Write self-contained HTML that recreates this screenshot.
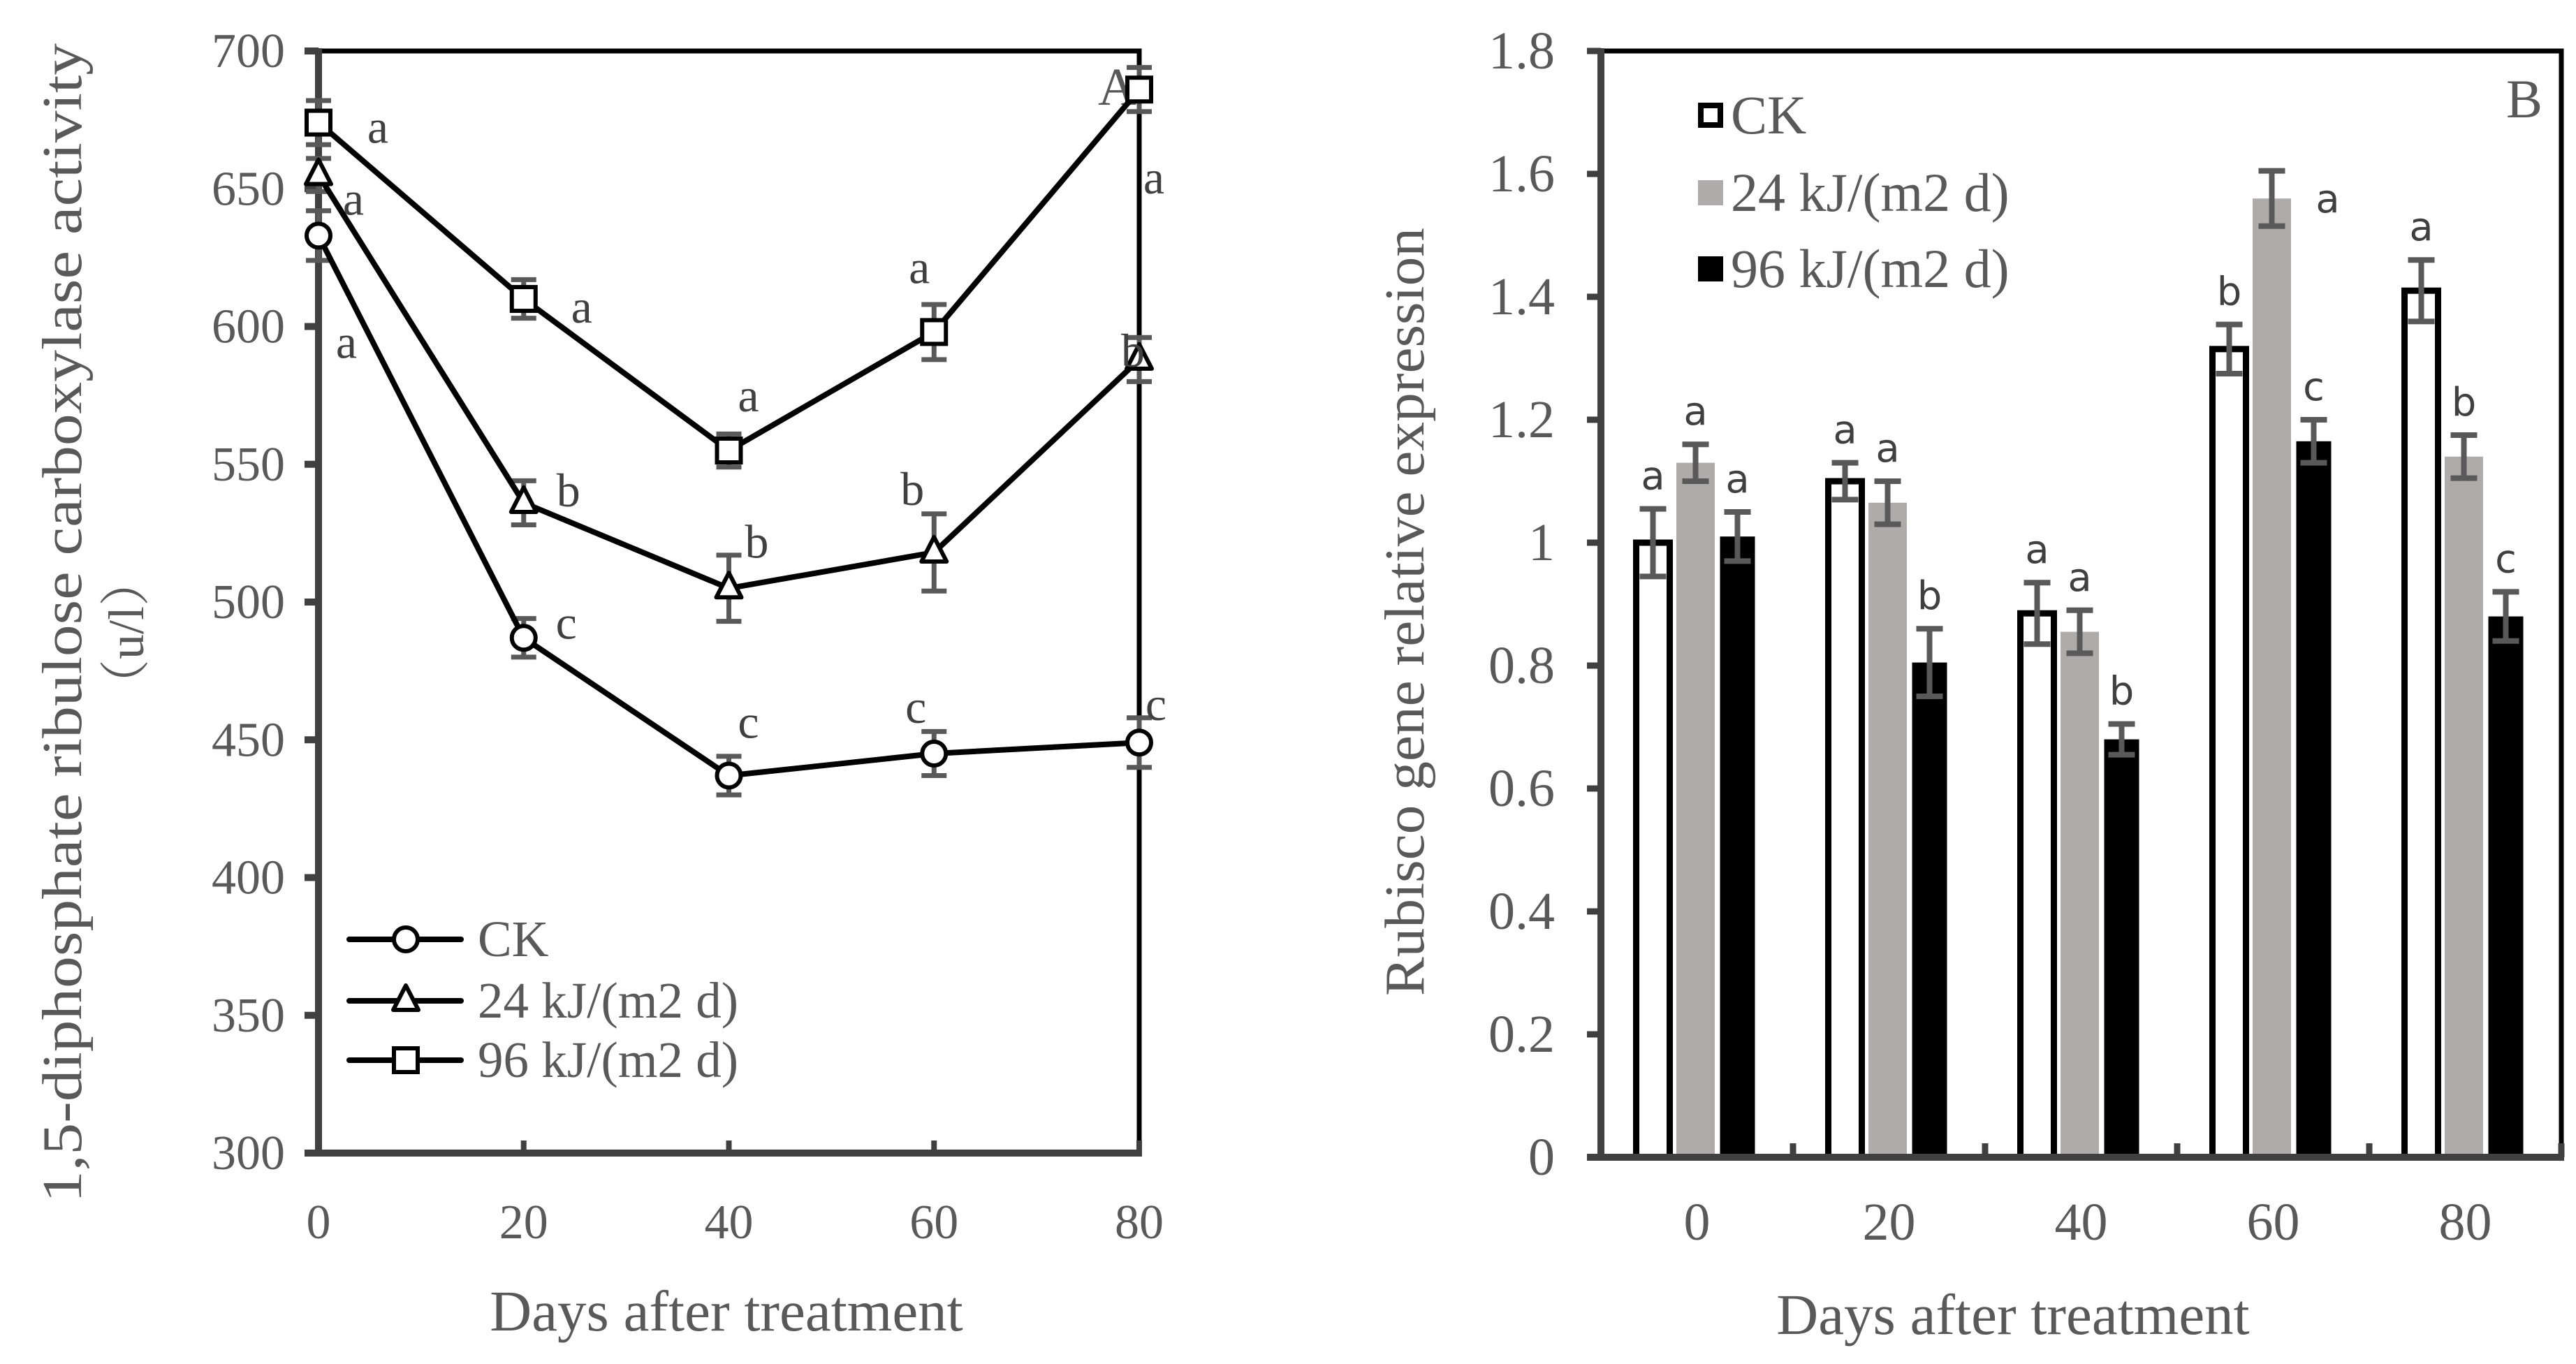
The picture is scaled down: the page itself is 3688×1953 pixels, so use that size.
<!DOCTYPE html>
<html><head><meta charset="utf-8"><style>
html,body{margin:0;padding:0;background:#fff;}
svg{display:block;}
text{font-family:"Liberation Serif",serif;fill:#595959;}
.sans{font-family:"DejaVu Sans","Liberation Sans",sans-serif;fill:#404040;}
</style></head><body>
<svg id="fig" width="3688" height="1953" viewBox="0 0 3688 1953" xmlns="http://www.w3.org/2000/svg">
<g id="chartA"></g>
<g id="chartB"></g>
</svg>
<script>
// ---------- Chart A data ----------
const daysA = [0, 20, 40, 60, 80];
const ckA = [633, 487, 437, 445, 449];
const uv24A = [655, 536, 505, 518, 588];
const uv96A = [674, 610, 555, 598, 686];
const ckErrA = [9, 7, 7, 8, 9];
const uv24ErrA = [6, 8, 12, 14, 8];
const uv96ErrA = [8, 7, 6, 10, 8];
const ckLetA = ["a", "c", "c", "c", "c"];
const uv24LetA = ["a", "b", "b", "b", "b"];
const uv96LetA = ["a", "a", "a", "a", "a"];
const yTicksA = [300, 350, 400, 450, 500, 550, 600, 650, 700];
const xTicksA = [0, 20, 40, 60, 80];
// ---------- Chart B data ----------
const catsB = ["0", "20", "40", "60", "80"];
const ckB = [1.0, 1.1, 0.885, 1.315, 1.41];
const uv24B = [1.13, 1.065, 0.855, 1.56, 1.14];
const uv96B = [1.01, 0.805, 0.68, 1.165, 0.88];
const ckErrB = [0.055, 0.03, 0.05, 0.04, 0.05];
const uv24ErrB = [0.03, 0.035, 0.035, 0.045, 0.035];
const uv96ErrB = [0.04, 0.055, 0.025, 0.035, 0.04];
const ckLetB = ["a", "a", "a", "b", "a"];
const uv24LetB = ["a", "a", "a", "a", "b"];
const uv96LetB = ["a", "b", "b", "c", "c"];
const yTicksB = [0, 0.2, 0.4, 0.6, 0.8, 1, 1.2, 1.4, 1.6, 1.8];

const NS = "http://www.w3.org/2000/svg";
function mk(parent, tag, attrs, txt) {
  const e = document.createElementNS(NS, tag);
  for (const k in attrs) e.setAttribute(k, attrs[k]);
  if (txt !== undefined) e.textContent = txt;
  parent.appendChild(e);
  return e;
}

// ===== Chart A =====
(function () {
  const g = document.getElementById('chartA');
  const L = 456, R = 1631, T = 73, B = 1651;
  const x = d => L + (d - 0) / 80 * (R - L);
  const y = v => B - (v - 300) / 400 * (B - T);
  let e = mk(g, 'path', {d: `M${L} ${T} H${R} V${B}`, fill: 'none', stroke: '#000', 'stroke-width': 7});
  
  
  e = mk(g, 'line', {x1: L, y1: T - 4, x2: L, y2: B + 5, stroke: '#404040', 'stroke-width': 10});
  
  
  e = mk(g, 'line', {x1: L - 20, y1: B, x2: R + 4, y2: B, stroke: '#404040', 'stroke-width': 10});
  
  
  yTicksA.forEach(v => {
    let t = mk(g, 'line', {x1: L - 20, y1: y(v), x2: L, y2: y(v), stroke: '#404040', 'stroke-width': 10});
    
    
    t = mk(g, 'text', {x: 408, y: y(v) + 23, 'text-anchor': 'end', 'font-size': 70}, String(v));
    
    
  });
  xTicksA.forEach(d => {
    let t = mk(g, 'line', {x1: x(d), y1: B - 18, x2: x(d), y2: B, stroke: '#404040', 'stroke-width': 8});
    
    
    t = mk(g, 'text', {x: x(d), y: 1773, 'text-anchor': 'middle', 'font-size': 70}, String(d));
    
    
  });
  e = mk(g, 'text', {x: 1040, y: 1905, 'text-anchor': 'middle', 'font-size': 83}, 'Days after treatment');
  
  
  e = mk(g, 'text', {x: 0, y: 0, 'text-anchor': 'middle', 'font-size': 80, textLength: 1660, lengthAdjust: 'spacingAndGlyphs', transform: 'translate(116 892) rotate(-90)'}, '1,5-diphosphate ribulose carboxylase activity');
  
  
  e = mk(g, 'text', {x: 0, y: 0, 'text-anchor': 'middle', 'font-size': 72, transform: 'translate(205 906) rotate(-90)'}, '（u/l）');
  e.setAttribute('style', 'font-family:"Liberation Serif","Noto Serif CJK SC",serif');
  
  
  e = mk(g, 'text', {x: 1572, y: 150, 'font-size': 76}, 'A');
  
  

  function marker(parent, type, cx, cy) {
    let m;
    if (type === 'circle') m = mk(parent, 'circle', {cx, cy, r: 17, fill: '#fff', stroke: '#000', 'stroke-width': 6});
    else if (type === 'tri') m = mk(parent, 'path', {d: `M${cx} ${cy - 22} L${cx + 18} ${cy + 13} L${cx - 18} ${cy + 13} Z`, fill: '#fff', stroke: '#000', 'stroke-width': 6, 'stroke-linejoin': 'round'});
    else m = mk(parent, 'rect', {x: cx - 17, y: cy - 17, width: 34, height: 34, fill: '#fff', stroke: '#000', 'stroke-width': 6});
    return m;
  }
  const series = [
    {name: 'ck', vals: ckA, err: ckErrA, let: ckLetA, m: 'circle', off: [[40, 153], [61, -21], [28, -76], [-26, -66], [24, -54]]},
    {name: '24', vals: uv24A, err: uv24ErrA, let: uv24LetA, m: 'tri', off: [[50, 35], [64, -17], [40, -66], [-31, -90], [-9, -12]]},
    {name: '96', vals: uv96A, err: uv96ErrA, let: uv96LetA, m: 'rect', off: [[85, 7], [83, 12], [28, -78], [-21, -92], [21, 127]]}
  ];
  series.forEach(s => {
    const sg = mk(g, 'g', {});
    
    
    s.vals.forEach((v, i) => {
      const cx = x(daysA[i]), t = y(v + s.err[i]), b = y(v - s.err[i]);
      const eb = mk(sg, 'path', {d: `M${cx} ${t} V${b} M${cx - 18} ${t} H${cx + 18} M${cx - 18} ${b} H${cx + 18}`, stroke: '#595959', 'stroke-width': 7, fill: 'none'});
      
      
    });
    const pts = s.vals.map((v, i) => x(daysA[i]) + ',' + y(v)).join(' ');
    const pl = mk(sg, 'polyline', {points: pts, fill: 'none', stroke: '#000', 'stroke-width': 8, 'stroke-linejoin': 'round'});
    
    
    s.vals.forEach((v, i) => {
      const m = marker(sg, s.m, x(daysA[i]), y(v));
      
      
      const lt = mk(sg, 'text', {x: x(daysA[i]) + s.off[i][0], y: y(v) + s.off[i][1] + 22, 'text-anchor': 'middle', 'font-size': 68}, s.let[i]);
      lt.setAttribute('style', 'fill:#404040');
      
      
    });
  });
  const lg = mk(g, 'g', {});
  
  
  const legItems = [['circle', 'CK', 1345], ['tri', '24 kJ/(m2 d)', 1433], ['rect', '96 kJ/(m2 d)', 1518]];
  legItems.forEach(it => {
    const eg = mk(lg, 'g', {});
    
    
    mk(eg, 'line', {x1: 500, y1: it[2], x2: 660, y2: it[2], stroke: '#000', 'stroke-width': 8, 'stroke-linecap': 'round'});
    marker(eg, it[0], 581, it[2]);
    mk(eg, 'text', {x: 684, y: it[2] + 24, 'font-size': 73}, it[1]);
  });
})();

// ===== Chart B =====
(function () {
  const g = document.getElementById('chartB');
  const L = 2292, R = 3667, T = 73, B = 1657;
  const cw = (R - L) / catsB.length;
  const xc = i => L + cw * (i + 0.5);
  const y = v => B - v / 1.8 * (B - T);
  let e = mk(g, 'path', {d: `M${L} ${T} H${R} V${B}`, fill: 'none', stroke: '#000', 'stroke-width': 7});
  
  
  yTicksB.forEach(v => {
    let t = mk(g, 'line', {x1: L - 20, y1: y(v), x2: L, y2: y(v), stroke: '#404040', 'stroke-width': 9});
    
    
    t = mk(g, 'text', {x: 2226, y: y(v) + 25, 'text-anchor': 'end', 'font-size': 76}, String(v));
    
    
  });
  catsB.forEach((c, i) => {
    let t = mk(g, 'line', {x1: L + cw * (i + 1), y1: B - 20, x2: L + cw * (i + 1), y2: B, stroke: '#404040', 'stroke-width': 9});
    
    
    t = mk(g, 'text', {x: xc(i), y: 1775, 'text-anchor': 'middle', 'font-size': 76}, c);
    
    
  });
  e = mk(g, 'text', {x: 2882, y: 1910, 'text-anchor': 'middle', 'font-size': 83}, 'Days after treatment');
  
  
  e = mk(g, 'text', {x: 0, y: 0, 'text-anchor': 'middle', 'font-size': 80, textLength: 1100, lengthAdjust: 'spacingAndGlyphs', transform: 'translate(2038 876) rotate(-90)'}, 'Rubisco gene relative expression');
  
  
  e = mk(g, 'text', {x: 3588, y: 168, 'font-size': 78}, 'B');
  
  

  const series = [
    {name: 'ck', vals: ckB, err: ckErrB, let: ckLetB, off: -63, w: 48, fill: '#fff', stroke: '#000', sw: 9},
    {name: '24', vals: uv24B, err: uv24ErrB, let: uv24LetB, off: -2, w: 55, fill: '#afabab', stroke: 'none', sw: 0},
    {name: '96', vals: uv96B, err: uv96ErrB, let: uv96LetB, off: 58, w: 50, fill: '#000', stroke: 'none', sw: 0}
  ];
  series.forEach(s => {
    const sg = mk(g, 'g', {});
    
    
    s.vals.forEach((v, i) => {
      const cx = xc(i) + s.off;
      const r = mk(sg, 'rect', {x: cx - s.w / 2, y: y(v), width: s.w, height: B - y(v), fill: s.fill, stroke: s.stroke, 'stroke-width': s.sw});
      
      
    });
  });
  series.forEach(s => {
    s.vals.forEach((v, i) => {
      const cx = xc(i) + s.off, t = y(v + s.err[i]), b = y(v - s.err[i]);
      const eb = mk(g, 'path', {d: `M${cx} ${t} V${b} M${cx - 19} ${t} H${cx + 19} M${cx - 19} ${b} H${cx + 19}`, stroke: '#595959', 'stroke-width': 8, fill: 'none'});
      
      
      let lx = cx, ly = t - 28;
      if (s.name === '24' && i === 3) { lx = cx + 80; ly = y(v) + 20; }
      const lt = mk(g, 'text', {x: lx, y: ly, 'text-anchor': 'middle', 'font-size': 56, class: 'sans'}, s.let[i]);
      
      
    });
  });
  e = mk(g, 'line', {x1: L, y1: T - 4, x2: L, y2: B + 5, stroke: '#404040', 'stroke-width': 10});
  
  
  e = mk(g, 'line', {x1: L - 20, y1: B, x2: R + 4, y2: B, stroke: '#404040', 'stroke-width': 10});
  
  
  const lg = mk(g, 'g', {});
  
  
  const legItems = [['#fff', '#000', 'CK', 165], ['#afabab', 'none', '24 kJ/(m2 d)', 276], ['#000', 'none', '96 kJ/(m2 d)', 385]];
  legItems.forEach(it => {
    const eg = mk(lg, 'g', {});
    
    
    if (it[1] === 'none') mk(eg, 'rect', {x: 2431, y: it[3] - 18, width: 36, height: 36, fill: it[0]});
    else mk(eg, 'rect', {x: 2435, y: it[3] - 14, width: 28, height: 28, fill: it[0], stroke: it[1], 'stroke-width': 8});
    mk(eg, 'text', {x: 2478, y: it[3] + 26, 'font-size': 78}, it[2]);
  });
})();
</script>
</body></html>
